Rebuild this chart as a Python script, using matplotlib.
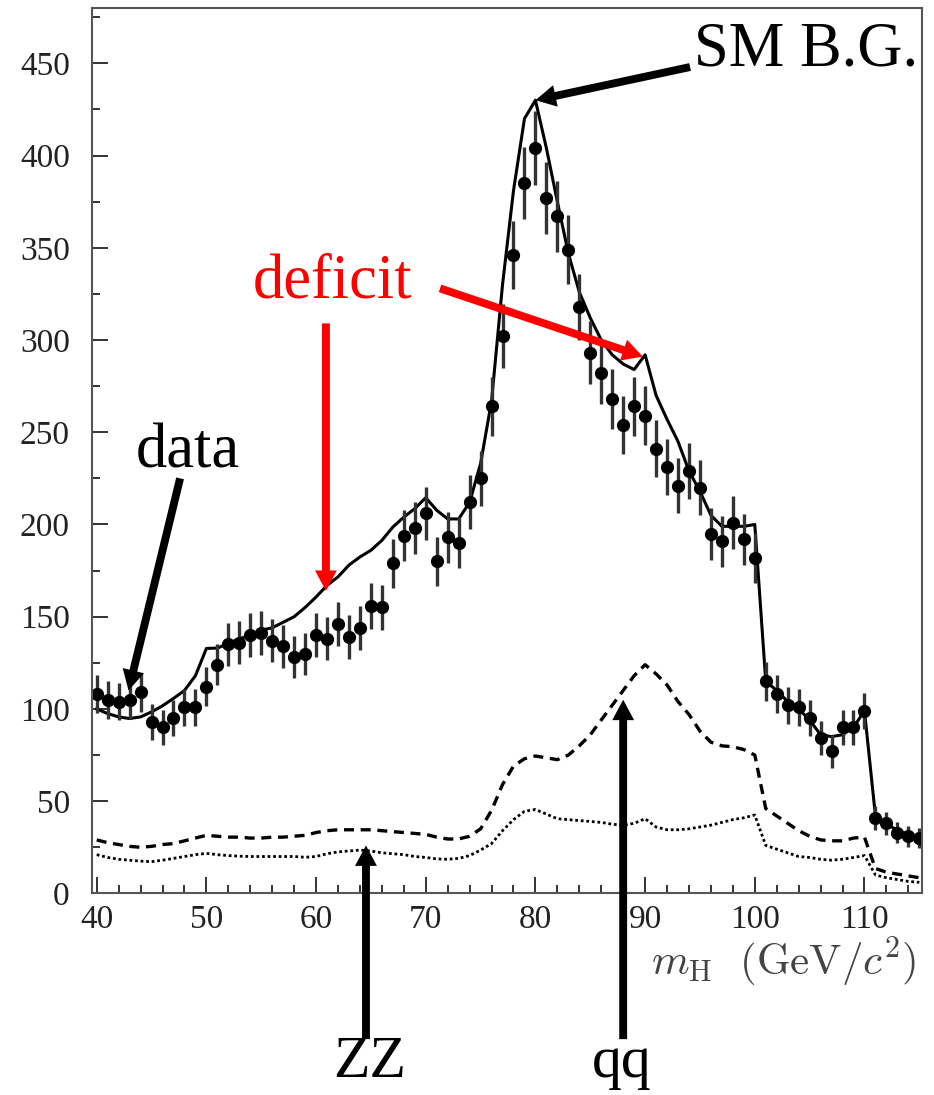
import numpy as np
import matplotlib
matplotlib.use('Agg')
import matplotlib.pyplot as plt

plt.rcParams['font.family'] = ['Liberation Serif', 'DejaVu Serif']
plt.rcParams['mathtext.fontset'] = 'cm'

# data points (1 GeV bins)
mass = list(range(40, 116))
data = [108, 105, 104, 105, 109, 93, 90, 95, 101, 101,
        112, 124, 135, 136, 140, 141, 137, 134, 128, 130,
        140, 138, 146, 139, 144, 156, 155, 179, 194, 198,
        206, 180, 193, 190, 212, 225, 264, 302, 346, 385,
        404, 377, 367, 349, 318, 293, 282, 268, 254, 264,
        259, 241, 231, 221, 229, 220, 195, 191, 201, 192,
        182, 115, 108, 102, 101, 95, 84, 77, 90, 90,
        99, 41, 38, 33, 31, 30]
err = [10.4, 10.2, 10.2, 10.2, 10.4, 9.6, 9.5, 9.7, 10.0, 10.0,
       10.6, 11.1, 11.6, 11.7, 11.8, 11.9, 11.7, 11.6, 11.3, 11.4,
       11.8, 11.7, 12.1, 11.8, 12.0, 12.5, 12.4, 13.4, 13.9, 14.1,
       14.4, 13.4, 13.9, 13.8, 14.6, 15.0, 16.2, 17.4, 18.6, 19.6,
       20.1, 19.4, 19.2, 18.7, 17.8, 17.1, 16.8, 16.4, 15.9, 16.2,
       16.1, 15.5, 15.2, 14.9, 15.1, 14.8, 14.0, 13.8, 14.2, 13.9,
       13.5, 10.7, 10.4, 10.1, 10.0, 9.7, 9.2, 8.8, 9.5, 9.5,
       9.9, 6.4, 6.2, 5.7, 5.6, 5.5]

# SM background (solid)
sm_bg = [100, 97.5, 95.7, 94.8, 95.7, 98.4, 101.7, 105.7, 110, 118,
         132.8, 133, 135.5, 138, 140, 142.7, 144, 147, 150, 155,
         160.7, 167, 171.6, 178, 182.4, 186, 191.4, 198.6, 204, 208.6,
         214.5, 207.7, 203, 203, 212, 233, 267, 330, 381, 420,
         430, 404, 375, 347, 326, 312, 300, 292, 287, 284,
         292, 270, 257, 245, 229, 218, 205, 199, 199, 199,
         200, 115, 110, 104, 100, 94, 86, 85, 86, 90,
         99, 42, 38, 34, 32, 30]

# qq background (dashed)
qq = [29, 27.5, 26.5, 25.5, 25, 25.5, 26.5, 27, 28.5, 30,
      31.5, 31, 30.5, 30.5, 30, 30, 30.5, 30.5, 31, 31.5,
      33, 34, 34.5, 34.5, 34.5, 34.5, 34, 33.5, 33, 32.5,
      32, 30.5, 29.5, 29.5, 31, 35, 45, 59, 69, 73,
      74.5, 73.5, 72.5, 75, 80, 86, 94, 102, 110, 118,
      124, 119, 113, 104, 97, 88, 82, 80, 79.5, 78,
      75, 46, 42, 38, 34, 31, 29, 28.5, 28.5, 30,
      30.5, 13.5, 11.5, 10.5, 9.5, 8.5]

# ZZ background (dotted)
zz = [21, 19.5, 18.5, 18, 17.5, 17.2, 18, 19, 20, 21,
      21.7, 21, 20.5, 20.2, 20, 20, 20, 20, 20, 19.6,
      20, 21.5, 22.5, 23, 23.5, 23, 22, 21.5, 21, 20,
      19.5, 18.7, 18.5, 19, 20.5, 23.5, 27, 34, 40, 44.5,
      45.5, 43, 40.5, 40, 39.5, 39, 38.5, 37.5, 37, 38,
      40.5, 36, 34.5, 34.5, 35, 36, 37, 38.5, 40, 41,
      42.5, 26, 24, 22, 20, 19.5, 18.5, 18, 18.5, 19.5,
      20.5, 10, 8.5, 7.5, 6.5, 6]

fig = plt.figure(figsize=(9.34, 10.95), dpi=100)
ax = fig.add_axes([0.0985, 0.1841, 0.8887, 0.8086])

ax.plot(mass, sm_bg, color='k', lw=2.2)
ax.plot(mass, qq, color='k', lw=2.4, ls=(0, (3, 2)))
ax.plot(mass, zz, color='k', lw=2.0, ls=(0, (1, 1)))
ax.errorbar(mass, data, yerr=err, fmt='o', color='k', ms=8.5,
            ecolor='#333333', elinewidth=2.4, capsize=0)

ax.set_xlim(39.57, 115.25)
ax.set_ylim(0, 480)
ax.set_xticks(range(40, 111, 10))
ax.set_xticks(range(40, 116, 2), minor=True)
ax.set_yticks(range(0, 451, 50))
ax.set_yticks(range(0, 476, 25), minor=True)
ax.tick_params(which='both', direction='in', top=False, right=False,
               color='#333333', width=1.4, labelsize=24, labelcolor='#222222')
ax.tick_params(which='major', length=11.5, pad=8)
ax.tick_params(axis='y', which='major', pad=16)
ax.tick_params(which='minor', length=6)
for sp in ax.spines.values():
    sp.set_color('#555555')
    sp.set_linewidth(1.5)

ax.text(102.6, -37, r'$m_{\mathrm{H}}\ \ (\mathrm{GeV}/c^2)$', fontsize=31,
        color='#444444', ha='center', va='center')

# annotations
arw = dict(arrowstyle='simple,head_width=0.75,head_length=0.7,tail_width=0.27',
           mutation_scale=21, lw=0, shrinkA=0, shrinkB=0)


def arrow(tail, tip, c='k'):
    ax.annotate('', xy=tip, xytext=tail, annotation_clip=False,
                arrowprops=dict(arw, fc=c, ec=c))


ax.text(94.5, 457, 'SM B.G.', fontsize=45, ha='left', va='center')
arrow((94.1, 448), (80.0, 430))

ax.text(61.5, 331, 'deficit', fontsize=45, color='red', ha='center', va='center')
arrow((60.9, 309), (60.9, 164), 'red')
arrow((71.3, 328), (89.8, 291), 'red')

ax.text(48.3, 239, 'data', fontsize=45, ha='center', va='center')
arrow((47.6, 225), (42.9, 110))

ax.text(64.9, -92, 'ZZ', fontsize=43, ha='center', va='center', clip_on=False)
arrow((64.55, -79), (64.55, 26))

ax.text(87.9, -92, 'qq', fontsize=43, ha='center', va='center', clip_on=False)
arrow((88.0, -79), (88.0, 105))

fig.savefig('out.png', dpi=100)
